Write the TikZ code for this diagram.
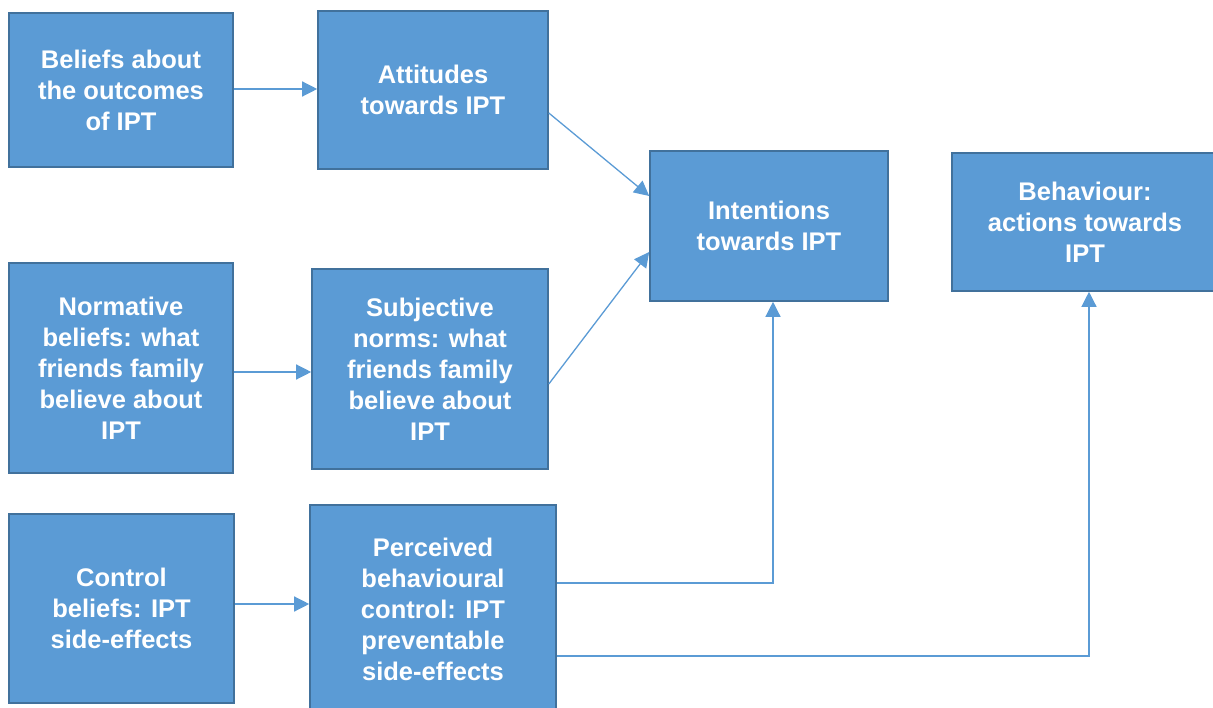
\documentclass[tikz,border=0pt]{standalone}
\usepackage{fontspec}
\setmainfont{Liberation Sans}
\usetikzlibrary{arrows.meta,calc}
\definecolor{boxfill}{HTML}{5B9BD5}
\definecolor{boxline}{HTML}{41719C}
\definecolor{linkcol}{HTML}{5B9BD5}
\tikzset{
  tpbox/.style={rectangle, fill=boxfill, draw=boxline, line width=1.6pt,
    text=white, align=center, inner sep=0pt,
    font=\bfseries\fontsize{25.5}{31}\selectfont},
  link/.style={draw=linkcol, line width=1.3pt,
    -{Triangle[length=15pt,width=15pt]}}
}
\begin{document}
\begin{tikzpicture}[x=1pt,y=-1pt]
\useasboundingbox (0,0) rectangle (1213,708);
\clip (0,0) rectangle (1213,708);
% boxes: centre and size
\node[tpbox, minimum width=224pt, minimum height=154pt] (bel) at (121,90)
  {Beliefs about\\the outcomes\\of IPT};
\node[tpbox, minimum width=230pt, minimum height=158pt] (att) at (433,90)
  {Attitudes\\towards IPT};
\node[tpbox, minimum width=238pt, minimum height=150pt] (int) at (769,226)
  {Intentions\\towards IPT};
\node[tpbox, minimum width=266pt, minimum height=138pt] (beh) at (1085,222)
  {Behaviour:\\actions towards\\IPT};
\node[tpbox, minimum width=224pt, minimum height=210pt] (nor) at (121,368)
  {Normative\\beliefs: what\\friends family\\believe about\\IPT};
\node[tpbox, minimum width=236pt, minimum height=200pt] (sub) at (430,369)
  {Subjective\\norms: what\\friends family\\believe about\\IPT};
\node[tpbox, minimum width=225pt, minimum height=189pt] (con) at (121.5,608.5)
  {Control\\beliefs: IPT\\side-effects};
\node[tpbox, minimum width=246pt, minimum height=208pt] (per) at (433,609)
  {Perceived\\behavioural\\control: IPT\\preventable\\side-effects};
% connectors
\draw[link] ($(bel.east)+(0,-1)$) -- ($(att.west)+(0,-1)$);
\draw[link] ($(nor.east)+(0,4)$) -- ($(sub.west)+(0,3)$);
\draw[link] ($(con.east)+(0,-4.5)$) -- ($(per.west)+(0,-5)$);
\draw[link] ($(att.east)+(0,23)$) -- ($(int.west)+(0,-30)$);
\draw[link] ($(sub.east)+(0,15)$) -- ($(int.west)+(0,26)$);
\coordinate (k1) at ($(per.east)+(0,-26)$);
\coordinate (k2) at ($(per.east)+(0,47)$);
\draw[link] (k1) -| ($(int.south)+(4,0)$);
\draw[link] (k2) -| ($(beh.south)+(4,0)$);
\end{tikzpicture}
\end{document}
